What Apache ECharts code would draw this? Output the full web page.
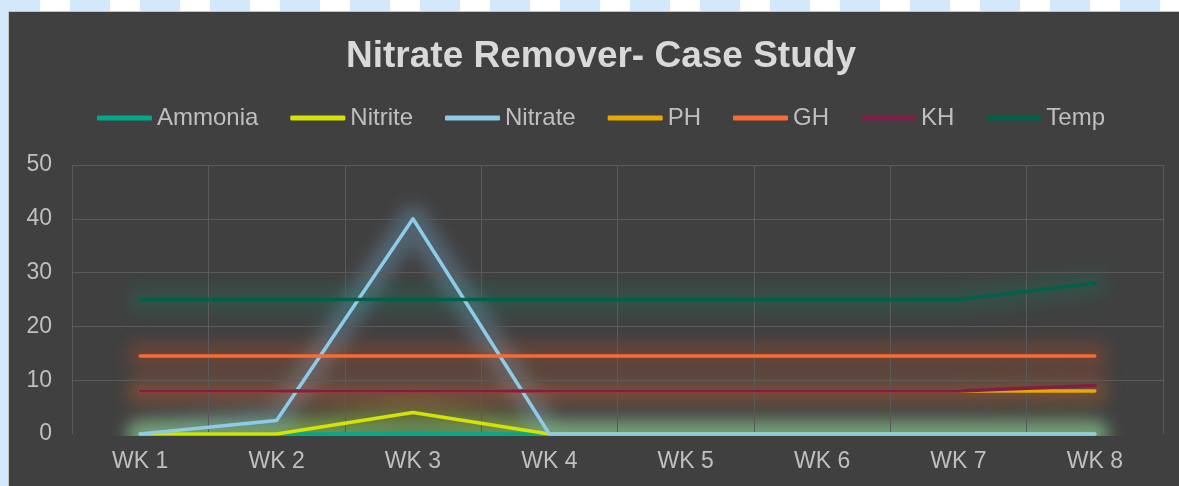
<!DOCTYPE html>
<html>
<head>
<meta charset="utf-8">
<script src="https://cdn.jsdelivr.net/npm/echarts@6/dist/echarts.min.js"></script>
<style>
  html, body { margin: 0; padding: 0; width: 1179px; height: 486px; overflow: hidden;
    background: repeating-linear-gradient(90deg, #d4e8fb 0px, #d4e8fb 40px, #ffffff 40px, #ffffff 70px); }
  #frame { position: absolute; left: 8px; top: 11px; width: 1184px; height: 480px; overflow: hidden;
    border-left: 1px solid #c4c4c4; border-top: 1px solid #c4c4c4; background: #404040; }
  #glowClip { position: absolute; left: 0; top: 0; width: 1184px; height: 424px; overflow: hidden; }
  #glow { position: absolute; left: 0; top: 0; width: 1184px; height: 480px; filter: blur(8px); }
  #chart { position: absolute; left: 0; top: 0; width: 1184px; height: 480px; }
</style>
</head>
<body>
<div id="frame">
  <div id="glowClip"><div id="glow"></div></div>
  <div id="chart"></div>
</div>
<script>
const categories = ['WK 1', 'WK 2', 'WK 3', 'WK 4', 'WK 5', 'WK 6', 'WK 7', 'WK 8'];
const ammonia = [0, 0, 0, 0, 0, 0, 0, 0];
const nitrite = [0, 0, 4, 0, 0, 0, 0, 0];
const nitrate = [0, 2.5, 40, 0, 0, 0, 0, 0];
const ph = [8, 8, 8, 8, 8, 8, 8, 8];
const gh = [14.5, 14.5, 14.5, 14.5, 14.5, 14.5, 14.5, 14.5];
const kh = [8, 8, 8, 8, 8, 8, 8, 9];
const temp = [25, 25, 25, 25, 25, 25, 25, 28];
const yTicks = [0, 10, 20, 30, 40, 50];

const seriesDefs = [
  { name: 'Ammonia', data: ammonia, color: '#00a98a', glow: 'rgba(110,200,120,0.5)' },
  { name: 'Nitrite', data: nitrite, color: '#d6e200', glow: 'rgba(190,200,40,0.25)' },
  { name: 'Nitrate', data: nitrate, color: '#8ecbe8', glow: 'rgba(130,190,230,0.28)' },
  { name: 'PH', data: ph, color: '#e8a900', glow: 'rgba(220,140,30,0.26)' },
  { name: 'GH', data: gh, color: '#fc6a33', glow: 'rgba(210,85,40,0.26)' },
  { name: 'KH', data: kh, color: '#801f46', glow: 'rgba(150,50,75,0.2)' },
  { name: 'Temp', data: temp, color: '#00604a', glow: 'rgba(20,130,100,0.22)' }
];

const FONT = 'Liberation Sans, Arial, sans-serif';
const gridBox = { left: 63, right: 30, top: 153, bottom: 58, containLabel: false };

function axes(showDecor) {
  return {
    xAxis: {
      type: 'category',
      data: categories,
      boundaryGap: true,
      axisLine: { show: false },
      axisTick: { show: false },
      axisLabel: { show: showDecor, color: '#bfbfbf', fontSize: 23, margin: 16, fontFamily: FONT },
      splitLine: { show: showDecor, interval: 0, lineStyle: { color: '#5a5a5a', width: 1 } }
    },
    yAxis: {
      type: 'value',
      min: yTicks[0],
      max: yTicks[yTicks.length - 1],
      interval: 10,
      axisLine: { show: false },
      axisTick: { show: false },
      axisLabel: { show: showDecor, color: '#bfbfbf', fontSize: 23, margin: 20, fontFamily: FONT },
      splitLine: { show: showDecor, lineStyle: { color: ['rgba(0,0,0,0)', '#5a5a5a', '#5a5a5a', '#5a5a5a', '#5a5a5a', '#5a5a5a'], width: 1 } }
    }
  };
}

// Glow layer (Excel "glow" effect), blurred with CSS
const glowChart = echarts.init(document.getElementById('glow'));
glowChart.setOption(Object.assign({
  animation: false,
  backgroundColor: 'transparent',
  grid: gridBox,
  series: seriesDefs.map(s => ({
    name: s.name, type: 'line', data: s.data, symbol: 'none', silent: true, clip: false,
    lineStyle: { color: s.glow, width: 28, cap: 'round', join: 'round' }
  }))
}, axes(false)));

// Main chart
const chart = echarts.init(document.getElementById('chart'));
chart.setOption(Object.assign({
  backgroundColor: 'transparent',
  animation: false,
  title: {
    text: 'Nitrate Remover- Case Study',
    left: 'center',
    top: 21,
    textStyle: { color: '#d9d9d9', fontSize: 37, fontWeight: 'bold', fontFamily: FONT }
  },
  legend: {
    top: 89,
    left: 'center',
    icon: 'roundRect',
    itemWidth: 55,
    itemHeight: 5,
    itemGap: 32,
    textStyle: { color: '#bfbfbf', fontSize: 24, fontFamily: FONT },
    data: seriesDefs.map(s => s.name)
  },
  grid: gridBox,
  series: seriesDefs.map(s => ({
    name: s.name,
    type: 'line',
    data: s.data,
    symbol: 'none',
    lineStyle: { color: s.color, width: 3.5, cap: 'round', join: 'round' },
    itemStyle: { color: s.color }
  }))
}, axes(true)));
</script>
</body>
</html>
